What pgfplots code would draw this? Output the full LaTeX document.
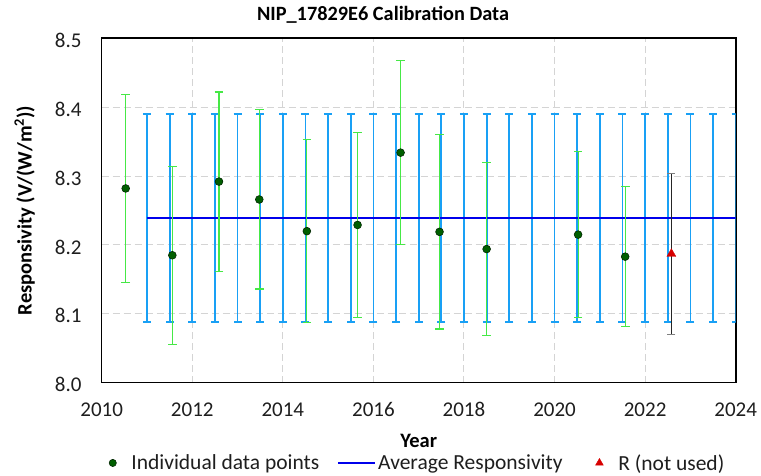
\documentclass[border=0pt]{standalone}
\usepackage{fontspec}
\setmainfont{Carlito}
\usepackage{pgfplots}
\pgfplotsset{compat=1.18}
\definecolor{barblue}{RGB}{25,160,245}
\definecolor{errgreen}{RGB}{70,232,70}
\definecolor{dotgreen}{RGB}{0,95,0}
\definecolor{gridgray}{RGB}{212,212,212}
\definecolor{avgblue}{RGB}{0,0,235}
\definecolor{redtri}{RGB}{215,0,0}
\definecolor{txt}{RGB}{30,30,30}

\pgfplotstableread{
x y e
2011.0 8.239 0.151
2011.5 8.239 0.151
2012.0 8.239 0.151
2012.5 8.239 0.151
2013.0 8.239 0.151
2013.5 8.239 0.151
2014.0 8.239 0.151
2014.5 8.239 0.151
2015.0 8.239 0.151
2015.5 8.239 0.151
2016.0 8.239 0.151
2016.5 8.239 0.151
2017.0 8.239 0.151
2017.5 8.239 0.151
2018.0 8.239 0.151
2018.5 8.239 0.151
2019.0 8.239 0.151
2019.5 8.239 0.151
2020.0 8.239 0.151
2020.5 8.239 0.151
2021.0 8.239 0.151
2021.5 8.239 0.151
2022.0 8.239 0.151
2022.5 8.239 0.151
2023.0 8.239 0.151
2023.5 8.239 0.151
2024.0 8.239 0.151
}\avgbars

\pgfplotstableread{
x y e
2010.53 8.282 0.137
2011.56 8.185 0.129
2012.59 8.292 0.130
2013.48 8.266 0.130
2014.53 8.220 0.133
2015.65 8.229 0.134
2016.60 8.334 0.134
2017.46 8.219 0.141
2018.50 8.194 0.126
2020.52 8.215 0.121
2021.56 8.183 0.102
}\points

\pgfplotstableread{
x y e
2022.58 8.187 0.117
}\notused

\begin{document}
\begin{tikzpicture}
\path[use as bounding box] (-101.7pt,-93.3pt) rectangle (659.3pt,382.7pt);
\begin{axis}[
  at={(0,0)}, anchor=south west,
  scale only axis, width=634pt, height=344.4pt,
  xmin=2010, xmax=2024, ymin=8.0, ymax=8.5,
  xtick={2010,2012,2014,2016,2018,2020,2022,2024},
  ytick={8.0,8.1,8.2,8.3,8.4,8.5},
  /pgf/number format/assume math mode=true,
  xticklabel style={/pgf/number format/1000 sep={}, anchor=base, inner sep=0pt, yshift=-34pt},
  yticklabel style={/pgf/number format/.cd, fixed, fixed zerofill, precision=1, /tikz/.cd, anchor=east, inner sep=0pt, xshift=-20pt, yshift=-2pt},
  tick label style={font=\fontsize{21}{25}\selectfont, text=txt},
  major tick length=0pt,
  grid=major,
  major grid style={gridgray, line width=1pt, dash pattern=on 7pt off 4pt},
  axis line style={line width=1.6pt, black},
  title={NIP\_17829E6 Calibration Data},
  title style={at={(axis description cs:0.4437,1)}, anchor=base, yshift=12pt, font=\bfseries\fontsize{20.3}{24}\selectfont, text=black},
  xlabel={Year},
  every axis x label/.style={at={(axis description cs:0.5,0)}, anchor=base, yshift=-65pt, font=\bfseries\fontsize{20.5}{24}\selectfont, text=black},
  ylabel={Responsivity (V/(W/m\textsuperscript{2}))},
  every axis y label/.style={at={(axis description cs:-0.1215,0.5)}, anchor=center, rotate=90, font=\bfseries\fontsize{20.5}{24}\selectfont, text=black},
  legend columns=3,
  legend style={at={(axis description cs:0.4985,-0.233)}, anchor=center, draw=none, fill=none,
    font=\fontsize{21.5}{26}\selectfont, text=txt, cells={anchor=west},
    nodes={inner sep=2pt},
    /tikz/column 2/.style={column sep=15pt},
    /tikz/column 4/.style={column sep=31pt}},
]
% blue bars around average
\addplot[draw=none, mark=none, forget plot,
  error bars/.cd, y dir=both, y explicit,
  error bar style={draw=barblue, line width=1.8pt},
  error mark options={rotate=90, draw=barblue, line width=1.8pt, mark size=4pt}]
  table[x=x, y=y, y error=e] {\avgbars};
% average line
\addplot[avgblue, line width=2.8pt, mark=none, forget plot] coordinates {(2011,8.239) (2024,8.239)};
% green error bars
\addplot[draw=none, mark=none, forget plot,
  error bars/.cd, y dir=both, y explicit,
  error bar style={draw=errgreen, line width=1.1pt},
  error mark options={rotate=90, draw=errgreen, line width=1.1pt, mark size=4.3pt}]
  table[x=x, y=y, y error=e] {\points};
% individual points
\addplot[only marks, mark=*, mark size=3.9pt, forget plot,
  mark options={fill=dotgreen, draw=black!60!dotgreen, line width=0.6pt}]
  table[x=x, y=y] {\points};
% not used
\addplot[draw=none, mark=none, forget plot,
  error bars/.cd, y dir=both, y explicit,
  error bar style={draw=black!85, line width=0.9pt},
  error mark options={rotate=90, draw=black!50, line width=0.9pt, mark size=4pt}]
  table[x=x, y=y, y error=e] {\notused};
\addplot[only marks, mark=triangle*, mark size=5.2pt, forget plot,
  mark options={fill=redtri, draw=redtri}]
  table[x=x, y=y] {\notused};

\addlegendimage{only marks, mark=*, mark size=3.6pt, mark options={fill=dotgreen, draw=black!60!dotgreen, line width=0.6pt}}
\addlegendentry{\hspace{13pt}Individual data points}
\addlegendimage{avgblue, line width=2.8pt, legend image code/.code={\draw[avgblue, line width=2.8pt] (0pt,0pt) -- (37pt,0pt);}}
\addlegendentry{Average Responsivity}
\addlegendimage{only marks, mark=triangle*, mark size=4.5pt, mark options={fill=redtri, draw=redtri}}
\addlegendentry{\hspace{13pt}R (not used)}
\end{axis}
\end{tikzpicture}
\end{document}
